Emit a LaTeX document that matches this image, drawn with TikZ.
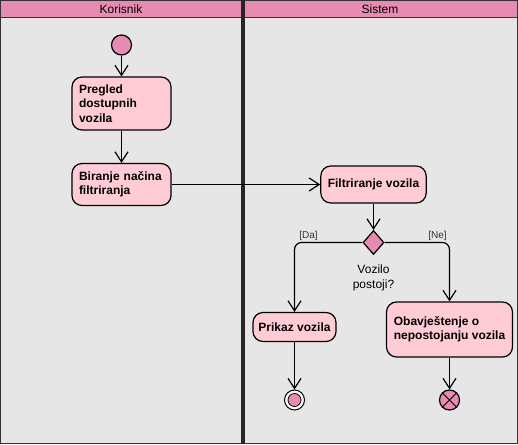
\documentclass[tikz,border=0pt]{standalone}
\usepackage{fontspec}
\setmainfont{Liberation Sans}
\usetikzlibrary{
  arrows.meta,
  shapes.geometric
}
\definecolor{lanehead}{RGB}{231,139,178}
\definecolor{lanebody}{RGB}{230,230,230}
\definecolor{actfill}{RGB}{255,204,213}
\tikzset{
  act/.style={draw, line width=1.2pt, fill=actfill, rounded corners=10pt,
    font=\bfseries\fontsize{12}{14.5}\selectfont, inner xsep=7pt, inner ysep=4pt},
  flow/.style={draw, line width=1.2pt,
    -{Straight Barb[length=10pt,width=13pt,line width=1.2pt]}},
  lbl/.style={font=\fontsize{12}{15}\selectfont, inner sep=0pt}
}

\begin{document}
\begin{tikzpicture}[x=1pt, y=-1pt]
  \def\Xa{0.5};
  \def\Xm{242};
  \def\Xb{517.5};
  \def\Yh{18};
  \def\Ye{443.5};
  \useasboundingbox (0,0) rectangle (518,444);
         % lanes
         \draw[line width=1pt, draw=black!80, fill=lanebody] (\Xa, 0.5) rectangle (\Xb, \Ye);
         \draw[line width=1pt, draw=black!80, fill=lanehead] (\Xa, 0.5) rectangle (\Xb, \Yh);
         \draw[line width=1.2pt, draw=black!85] (\Xm, 0.5) -- (\Xm, \Ye);
         \draw[line width=1.2pt, draw=black!85] (\Xm + 2, 0.5) -- (\Xm + 2, \Ye);
        \node[lbl] (korisnik) at (121, 9.5) {Korisnik};
        \node[lbl] (sistem) at (380, 9.5) {Sistem};
        % Korisnik
        \node[draw, line width=1.2pt, fill=lanehead, circle, minimum size=20pt, inner sep=0pt] (start) at (121.5, 45) {};
        \node[act, text width=85pt, minimum height=53pt, align=left] (pregled) at (121.5, 103.5)
          {Pregled\\dostupnih\\vozila};
        \node[act, text width=85pt, minimum height=42pt, align=left] (biranje) at (121.5, 184.5)
          {Biranje načina\\filtriranja};
        % Sistem
        \node[act, minimum width=105pt, minimum height=37pt, align=center] (filtriranje) at (373.5, 184.5)
          {Filtriranje vozila};
        \node[draw, line width=1.2pt, fill=lanehead, diamond, minimum width=21pt, minimum height=24pt, inner sep=0pt] (postoji) at (373.5, 242.5) {};
        \node[lbl, align=center] (uslov) at (373.5, 277.5) {Vozilo\\postoji?};
        \node[act, minimum width=83pt, minimum height=29pt, inner xsep=4pt, align=center] (prikaz) at (294.5, 327)
          {Prikaz vozila};
        \node[act, minimum width=126pt, minimum height=55pt, inner xsep=5pt, align=left] (obavjestenje) at (449.5, 329.5)
          {Obavještenje o\\nepostojanju vozila};
        \node[draw, line width=1pt, fill=white, circle, minimum size=20pt, inner sep=0pt] (kraj) at (294.5, 400) {};
        \filldraw[line width=0.8pt, fill=lanehead] (kraj.center) circle (6.5);
        \node[draw, line width=1.2pt, fill=lanehead, circle, minimum size=20pt, inner sep=0pt] (prekid) at (449.5, 400) {};
        \draw[line width=1pt] (prekid.north west) -- (prekid.south east);
        \draw[line width=1pt] (prekid.north east) -- (prekid.south west);
	% connectors
	\draw[flow] (start) -- (pregled);
	\draw[flow] (pregled) -- (biranje);
	\draw[flow] (biranje) -- (filtriranje);
	\draw[flow] (filtriranje) -- (postoji);
	\draw[flow, rounded corners=7pt] (postoji.west) -| (prikaz.north);
	\draw[flow, rounded corners=7pt] (postoji.east) -| (obavjestenje.north);
	\draw[flow] (prikaz) -- (kraj);
	\draw[flow] (obavjestenje) -- (prekid);
        \node[font=\fontsize{10}{12}\selectfont, text=black!80, inner sep=0pt] (da) at (308.5, 236) {[Da]};
        \node[font=\fontsize{10}{12}\selectfont, text=black!80, inner sep=0pt] (ne) at (437.5, 236) {[Ne]};
\end{tikzpicture}
\end{document}
